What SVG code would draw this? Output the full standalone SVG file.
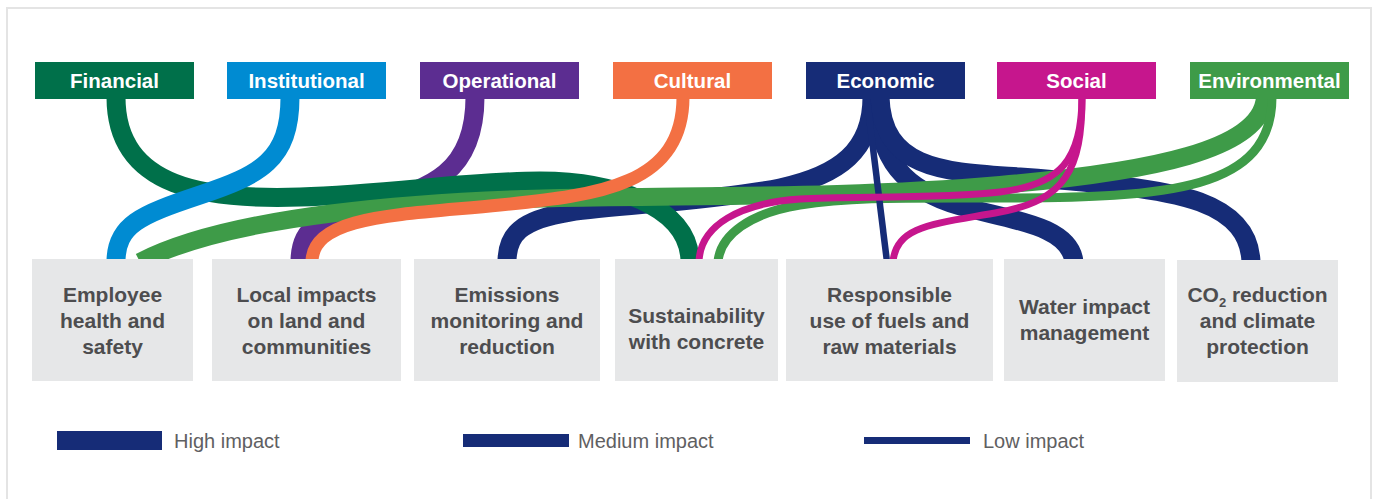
<svg xmlns="http://www.w3.org/2000/svg" width="1374" height="499" viewBox="0 0 1374 499">
<style>
.c{fill:none;stroke-linecap:butt}
.hi{stroke-width:19}
.md{stroke-width:13}
.lo{stroke-width:7}
.top{font-family:"Liberation Sans",Arial,sans-serif;font-weight:bold;font-size:20.5px;fill:#fff;text-anchor:middle}
.bx{fill:#E6E7E8}
.bt{font-family:"Liberation Sans",Arial,sans-serif;font-weight:bold;font-size:21px;fill:#4D4D4F;text-anchor:middle}
.lg{font-family:"Liberation Sans",Arial,sans-serif;font-size:20px;fill:#5F6062}
</style>
<rect x="0" y="0" width="1374" height="499" fill="#fff"/>
<rect x="7" y="8" width="1364" height="500" fill="none" stroke="#E4E4E4" stroke-width="2"/>

<g id="connectors">
  <!-- Operational -> Local impacts -->
  <path class="c hi" stroke="#5C2D91" d="M475,97 C475,180 420,190 370,205 S300,225 300,262"/>
  <!-- Economic -> Emissions -->
  <path class="c hi" stroke="#162C77" d="M872,97 C872,150 840,175 780,188 C720,200 620,205 570,212 C520,220 507,235 507,262"/>
  <!-- Economic -> Water -->
  <path class="c hi" stroke="#162C77" d="M877,97 C877,160 905,190 960,206 C1010,220 1070,225 1074,262"/>
  <!-- Economic -> CO2 -->
  <path class="c hi" stroke="#162C77" d="M880,97 C882,172 950,172 1020,177 C1100,183 1160,188 1200,202 C1235,215 1250,235 1251,262"/>
  <!-- Financial -> Sustainability -->
  <path class="c hi" stroke="#00704A" d="M116,97 C116,190 210,200 300,197 S470,181 540,181 S690,205 690,262"/>
  <!-- Institutional -> Employee -->
  <path class="c hi" stroke="#008BD2" d="M290,97 C290,160 260,175 200,195 S116,225 116,262"/>
  <!-- Environmental -> Employee -->
  <path class="c" stroke="#3E9B48" stroke-width="18" d="M1265,97 C1262,150 1150,172 1000,185 S700,195 560,198 S230,215 140,262"/>
  <!-- Environmental -> Sustainability -->
  <path class="c" stroke="#3E9B48" stroke-width="9" d="M1272,97 C1272,190 1170,198 1000,198 C900,198 850,197 800,205 C750,213 720,235 718,262"/>
  <!-- Cultural -> Local impacts -->
  <path class="c md" stroke="#F37043" d="M683,97 C683,185 600,195 500,205 S312,215 312,262"/>
  <!-- Economic -> Responsible (low) -->
  <path class="c" stroke="#162C77" stroke-width="6.5" d="M867,99 L887,262"/>
  <!-- Social -> Sustainability -->
  <path class="c lo" stroke="#C6168D" d="M1082,97 C1082,160 1060,185 1000,192 C940,199 850,196 800,199 C740,203 700,225 699,262"/>
  <!-- Social -> Responsible -->
  <path class="c lo" stroke="#C6168D" d="M1082,97 C1082,170 1065,200 1000,212 S896,225 893,262"/>
</g>

<g id="n-financial"><rect x="35" y="62" width="159" height="37" fill="#00704A"/><text class="top" x="114.5" y="88">Financial</text></g>
<g id="n-institutional"><rect x="227" y="62" width="159" height="37" fill="#008BD2"/><text class="top" x="306.5" y="88">Institutional</text></g>
<g id="n-operational"><rect x="420" y="62" width="159" height="37" fill="#5C2D91"/><text class="top" x="499.5" y="88">Operational</text></g>
<g id="n-cultural"><rect x="613" y="62" width="159" height="37" fill="#F37043"/><text class="top" x="692.5" y="88">Cultural</text></g>
<g id="n-economic"><rect x="806" y="62" width="159" height="37" fill="#162C77"/><text class="top" x="885.5" y="88">Economic</text></g>
<g id="n-social"><rect x="997" y="62" width="159" height="37" fill="#C6168D"/><text class="top" x="1076.5" y="88">Social</text></g>
<g id="n-environmental"><rect x="1190" y="62" width="159" height="37" fill="#3E9B48"/><text class="top" x="1269.5" y="88">Environmental</text></g>

<g id="n-employee"><rect class="bx" x="32" y="259" width="161" height="122"/>
  <text class="bt" x="112.5" y="302">Employee</text><text class="bt" x="112.5" y="328">health and</text><text class="bt" x="112.5" y="354">safety</text></g>
<g id="n-local"><rect class="bx" x="212" y="259" width="189" height="122"/>
  <text class="bt" x="306.5" y="302">Local impacts</text><text class="bt" x="306.5" y="328">on land and</text><text class="bt" x="306.5" y="354">communities</text></g>
<g id="n-emissions"><rect class="bx" x="414" y="259" width="186" height="122"/>
  <text class="bt" x="507" y="302">Emissions</text><text class="bt" x="507" y="328">monitoring and</text><text class="bt" x="507" y="354">reduction</text></g>
<g id="n-sustainability"><rect class="bx" x="615" y="259" width="163" height="122"/>
  <text class="bt" x="696.5" y="323">Sustainability</text><text class="bt" x="696.5" y="349">with concrete</text></g>
<g id="n-responsible"><rect class="bx" x="786" y="259" width="207" height="122"/>
  <text class="bt" x="889.5" y="302">Responsible</text><text class="bt" x="889.5" y="328">use of fuels and</text><text class="bt" x="889.5" y="354">raw materials</text></g>
<g id="n-water"><rect class="bx" x="1004" y="259" width="161" height="122"/>
  <text class="bt" x="1084.5" y="314">Water impact</text><text class="bt" x="1084.5" y="340">management</text></g>
<g id="n-co2"><rect class="bx" x="1177" y="260" width="161" height="122"/>
  <text class="bt" x="1257.5" y="302">CO<tspan font-size="13" dy="5">2</tspan><tspan dy="-5"> reduction</tspan></text><text class="bt" x="1257.5" y="328">and climate</text><text class="bt" x="1257.5" y="354">protection</text></g>

<g id="legend">
  <rect x="57" y="431" width="105" height="19" fill="#162C77"/>
  <text class="lg" x="174" y="448">High impact</text>
  <rect x="463" y="434" width="106" height="13" fill="#162C77"/>
  <text class="lg" x="578" y="448">Medium impact</text>
  <rect x="864" y="437" width="106" height="7" fill="#162C77"/>
  <text class="lg" x="983" y="448">Low impact</text>
</g>
</svg>
